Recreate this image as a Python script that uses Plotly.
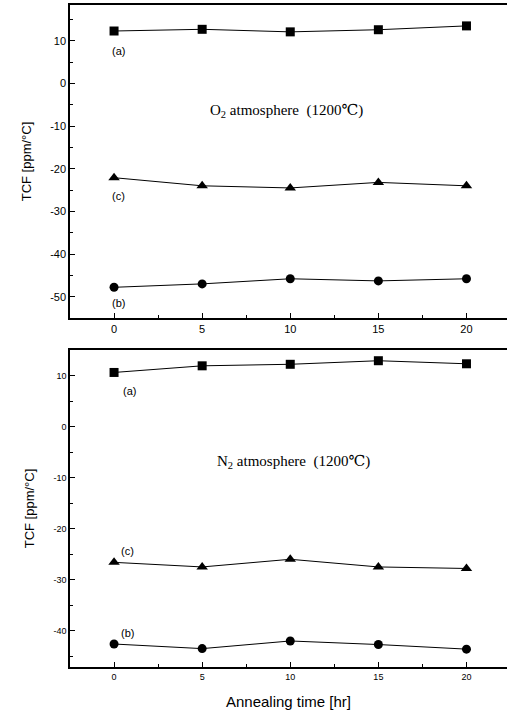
import plotly.graph_objects as go

time_hr = [0, 5, 10, 15, 20]
x_ticklabels = ["0", "5", "10", "15", "20"]

# O2 atmosphere (top panel)
o2_a = [12.3, 12.7, 12.1, 12.6, 13.5]
o2_c = [-22.1, -24.0, -24.5, -23.2, -24.0]
o2_b = [-47.8, -47.0, -45.8, -46.3, -45.8]
o2_yticks = [10, 0, -10, -20, -30, -40, -50]
o2_yticklabels = ["10", "0", "-10", "-20", "-30", "-40", "-50"]

# N2 atmosphere (bottom panel)
n2_a = [10.6, 11.9, 12.2, 12.9, 12.3]
n2_c = [-26.6, -27.5, -26.0, -27.5, -27.8]
n2_b = [-42.6, -43.5, -42.0, -42.7, -43.6]
n2_yticks = [10, 0, -10, -20, -30, -40]
n2_yticklabels = ["10", "0", "-10", "-20", "-30", "-40"]

W, H = 507, 714
fig = go.Figure()

def add_series(xref, yref, ys, symbol, size):
    fig.add_trace(go.Scatter(
        x=time_hr, y=ys, mode="lines+markers",
        line=dict(color="black", width=1),
        marker=dict(symbol=symbol, size=size, color="black"),
        xaxis=xref, yaxis=yref, showlegend=False))

add_series("x", "y", o2_a, "square", 9)
add_series("x", "y", o2_c, "triangle-up", 10)
add_series("x", "y", o2_b, "circle", 9)
add_series("x2", "y2", n2_a, "square", 9)
add_series("x2", "y2", n2_c, "triangle-up", 10)
add_series("x2", "y2", n2_b, "circle", 9)

xd = [70 / W, 1.0]
top_dom = [1 - 318 / H, 1 - 5 / H]
bot_dom = [1 - 667 / H, 1 - 350 / H]
sans = "Arial, Liberation Sans"

def xaxis_cfg(anchor, fsize):
    return dict(domain=xd, anchor=anchor, range=[-2.5, 22.3],
                tickvals=time_hr, ticktext=x_ticklabels,
                ticks="inside", ticklen=5, tickcolor="black",
                showline=True, linecolor="black", linewidth=1.5, mirror=True,
                showgrid=False, zeroline=False,
                tickfont=dict(family=sans, size=fsize, color="black"),
                minor=dict(dtick=2.5, ticks="inside", ticklen=3, tickcolor="black"),
                automargin=False)

def yaxis_cfg(anchor, dom, rng, tv, tt, fsize):
    return dict(domain=dom, anchor=anchor, range=rng,
                tickvals=tv, ticktext=tt,
                ticks="inside", ticklen=5, tickcolor="black",
                showline=True, linecolor="black", linewidth=1.5,
                showgrid=False, zeroline=False,
                tickfont=dict(family=sans, size=fsize, color="black"),
                minor=dict(dtick=5, ticks="inside", ticklen=3, tickcolor="black"),
                title=dict(text="TCF [ppm/°C]", standoff=16,
                           font=dict(family=sans, size=13, color="black")),
                automargin=False)

fig.update_layout(
    width=W, height=H,
    margin=dict(l=0, r=0, t=0, b=0),
    paper_bgcolor="white", plot_bgcolor="white",
    xaxis=xaxis_cfg("y", 11),
    yaxis=yaxis_cfg("x", top_dom, [-55, 18.4], o2_yticks, o2_yticklabels, 11),
    xaxis2=dict(**xaxis_cfg("y2", 9),
                title=dict(text="Annealing time [hr]", standoff=16,
                           font=dict(family=sans, size=15, color="black"))),
    yaxis2=yaxis_cfg("x2", bot_dom, [-47.1, 15], n2_yticks, n2_yticklabels, 9),
)

lab_font = dict(family=sans, size=11, color="black")
serif = dict(family="Liberation Serif, DejaVu Serif", size=15, color="black")

annotations = [
    dict(text="(a)", x=0.25, y=7.5, xref="x", yref="y"),
    dict(text="(c)", x=0.25, y=-26.3, xref="x", yref="y"),
    dict(text="(b)", x=0.25, y=-51.4, xref="x", yref="y"),
    dict(text="(a)", x=0.9, y=7.0, xref="x2", yref="y2"),
    dict(text="(c)", x=0.75, y=-24.3, xref="x2", yref="y2"),
    dict(text="(b)", x=0.75, y=-40.5, xref="x2", yref="y2"),
]
for a in annotations:
    fig.add_annotation(**a, showarrow=False, font=lab_font)

fig.add_annotation(text="O<sub>2</sub> atmosphere  (1200℃)", x=9.8, y=-6.5,
                   xref="x", yref="y", showarrow=False, font=serif)
fig.add_annotation(text="N<sub>2</sub> atmosphere  (1200℃)", x=10.2, y=-7.0,
                   xref="x2", yref="y2", showarrow=False, font=serif)

fig.write_html("out.html")
